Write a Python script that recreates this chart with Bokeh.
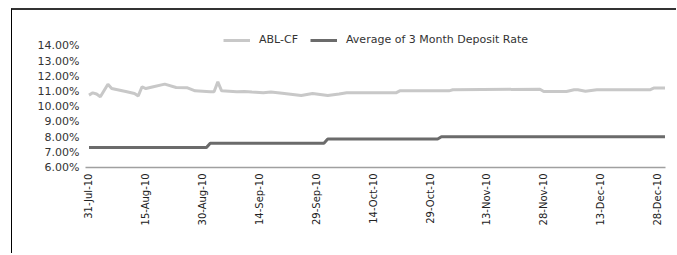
import pandas as pd
from bokeh.plotting import figure
from bokeh.models import (ColumnDataSource, Range1d, FixedTicker, DatetimeTickFormatter,
                          PrintfTickFormatter, Legend, LegendItem)
from bokeh.embed import file_html
from bokeh.resources import INLINE

# ---- data ----
abl_dates = ["2010-07-31", "2010-08-01", "2010-08-02", "2010-08-03", "2010-08-05", "2010-08-06",
             "2010-08-10", "2010-08-12", "2010-08-13", "2010-08-14", "2010-08-15", "2010-08-17",
             "2010-08-20", "2010-08-23", "2010-08-26", "2010-08-28", "2010-09-01", "2010-09-02",
             "2010-09-03", "2010-09-04", "2010-09-08", "2010-09-10", "2010-09-12", "2010-09-15",
             "2010-09-17", "2010-09-20", "2010-09-25", "2010-09-28", "2010-09-30", "2010-10-02",
             "2010-10-05", "2010-10-07", "2010-10-20", "2010-10-21", "2010-11-03", "2010-11-04",
             "2010-11-27", "2010-11-28", "2010-12-04", "2010-12-06", "2010-12-07", "2010-12-09",
             "2010-12-12", "2010-12-26", "2010-12-27", "2010-12-30"]
abl_values = [10.76, 10.91, 10.83, 10.65, 11.48, 11.19,
              10.98, 10.87, 10.71, 11.31, 11.19, 11.31,
              11.48, 11.26, 11.24, 11.04, 10.98, 10.98,
              11.63, 11.04, 10.98, 11.00, 10.96, 10.91,
              10.96, 10.88, 10.73, 10.87, 10.80, 10.73,
              10.83, 10.91, 10.91, 11.04, 11.04, 11.11,
              11.15, 11.00, 11.00, 11.11, 11.11, 11.02,
              11.11, 11.11, 11.22, 11.22]

dep_dates = ["2010-07-31", "2010-08-31", "2010-09-01", "2010-10-01", "2010-10-02",
             "2010-10-31", "2010-11-01", "2010-12-30"]
dep_values = [7.31, 7.31, 7.60, 7.60, 7.87, 7.87, 8.02, 8.02]

tick_dates = ["2010-07-31", "2010-08-15", "2010-08-30", "2010-09-14", "2010-09-29", "2010-10-14",
              "2010-10-29", "2010-11-13", "2010-11-28", "2010-12-13", "2010-12-28"]
y_ticks = [6, 7, 8, 9, 10, 11, 12, 13, 14]

series_names = ["ABL-CF", "Average of 3 Month Deposit Rate"]

# ---- build ----
abl_src = ColumnDataSource(dict(x=pd.to_datetime(abl_dates), y=abl_values))
dep_src = ColumnDataSource(dict(x=pd.to_datetime(dep_dates), y=dep_values))

x_start = pd.Timestamp("2010-07-30 02:00")
x_end = pd.Timestamp("2010-12-30 03:00")

p = figure(width=665, height=245, output_backend="svg", toolbar_location=None,
           x_axis_type="datetime",
           x_range=Range1d(x_start, x_end), y_range=Range1d(6, 15.14),
           min_border_left=73, min_border_right=12, min_border_top=18, min_border_bottom=88)
p.outline_line_color = None
p.xgrid.visible = False
p.ygrid.visible = False
p.background_fill_color = "white"
p.border_fill_color = "white"

r1 = p.line("x", "y", source=abl_src, line_color="#c8c8c8", line_width=3)
r2 = p.line("x", "y", source=dep_src, line_color="#6b6b6b", line_width=3)

# x axis
ticks_ms = [pd.Timestamp(d).value // 10**6 for d in tick_dates]
p.xaxis.ticker = FixedTicker(ticks=ticks_ms)
p.xaxis.formatter = DatetimeTickFormatter(days="%d-%b-%y", months="%d-%b-%y", hours="%d-%b-%y")
p.xaxis.major_label_orientation = 3.14159265 / 2
p.xaxis.major_label_text_font = "DejaVu Sans"
p.xaxis.major_label_text_font_size = "10px"
p.xaxis.major_label_text_color = "#222222"
p.xaxis.major_label_standoff = 6
p.xaxis.axis_line_color = "#a0a0a0"
p.xaxis.axis_line_width = 1.5
p.xaxis.major_tick_in = 0
p.xaxis.major_tick_out = 0
p.xaxis.minor_tick_in = 0
p.xaxis.minor_tick_out = 0

# y axis
p.yaxis.ticker = FixedTicker(ticks=y_ticks)
p.yaxis.formatter = PrintfTickFormatter(format="%.2f%%")
p.yaxis.major_label_text_font = "DejaVu Sans"
p.yaxis.major_label_text_font_size = "11px"
p.yaxis.major_label_text_color = "#333333"
p.yaxis.major_label_standoff = 6
p.yaxis.axis_line_color = None
p.yaxis.major_tick_in = 0
p.yaxis.major_tick_out = 0
p.yaxis.minor_tick_in = 0
p.yaxis.minor_tick_out = 0

legend = Legend(items=[LegendItem(label=series_names[0], renderers=[r1]),
                       LegendItem(label=series_names[1], renderers=[r2])],
                orientation="horizontal", location=(138, 121),
                label_text_font="DejaVu Sans", label_text_font_size="11px",
                label_text_color="#333333",
                glyph_width=27, glyph_height=12, label_height=12, label_standoff=9,
                spacing=12, padding=0, margin=0,
                border_line_color=None, background_fill_alpha=0)
p.add_layout(legend, "center")

# outer chart box (left and top edges, as cropped in the reference)
p.styles = {"border-left": "1px solid #000000", "border-top": "2px solid #333333",
            "margin-left": "11px", "margin-top": "8px"}

open("out.html", "w").write(file_html(p, INLINE))
